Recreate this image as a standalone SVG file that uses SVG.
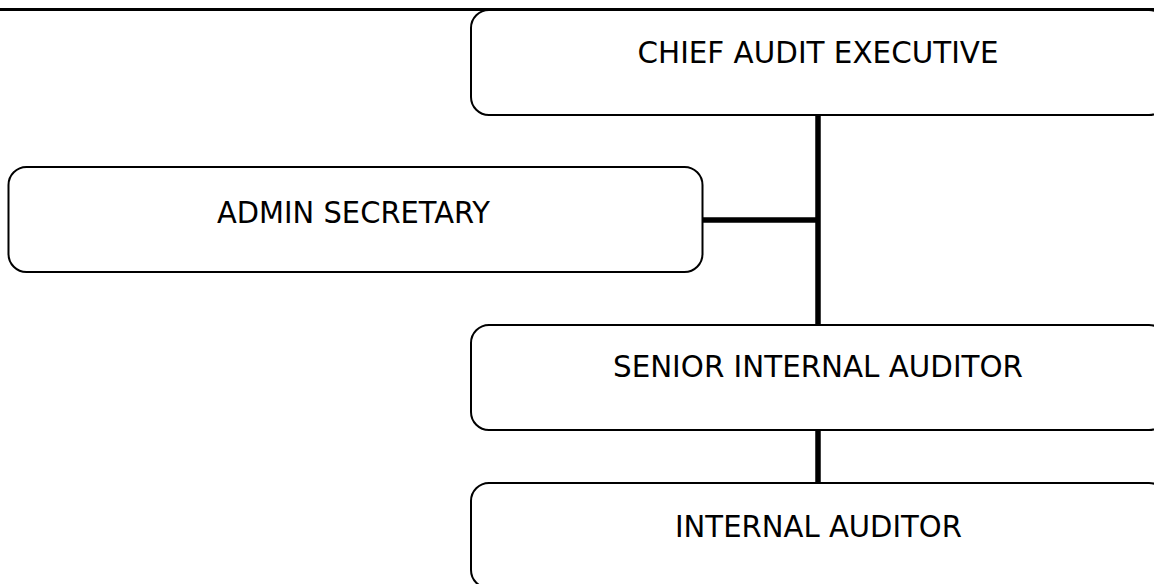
<svg xmlns="http://www.w3.org/2000/svg" width="1154" height="584" viewBox="0 0 1154 584">
<style>
.box{fill:#fff;stroke:#000;stroke-width:2}
.lbl{font-family:"DejaVu Sans","Liberation Sans",sans-serif;font-size:30px;fill:#000;text-anchor:middle}
.conn{stroke:#000;stroke-width:5.5;fill:none}
</style>
<rect width="1154" height="584" fill="#fff"/>
<line x1="0" y1="9.5" x2="1154" y2="9.5" stroke="#000" stroke-width="3"/>
<g id="connectors">
<line class="conn" x1="818" y1="114" x2="818" y2="326"/>
<line class="conn" x1="702" y1="220" x2="818" y2="220"/>
<line class="conn" x1="818" y1="430" x2="818" y2="484"/>
</g>
<g id="chief">
<rect class="box" x="471" y="10" width="696" height="105" rx="18"/>
<text class="lbl" x="818" y="63" textLength="361" lengthAdjust="spacingAndGlyphs">CHIEF AUDIT EXECUTIVE</text>
</g>
<g id="admin">
<rect class="box" x="8.5" y="167" width="694" height="105" rx="18"/>
<text class="lbl" x="353.5" y="223" textLength="273" lengthAdjust="spacingAndGlyphs">ADMIN SECRETARY</text>
</g>
<g id="senior">
<rect class="box" x="471" y="325" width="696" height="105" rx="18"/>
<text class="lbl" x="818" y="377" textLength="410" lengthAdjust="spacingAndGlyphs">SENIOR INTERNAL AUDITOR</text>
</g>
<g id="internal">
<rect class="box" x="471" y="483" width="696" height="105" rx="18"/>
<text class="lbl" x="818.5" y="537" textLength="287" lengthAdjust="spacingAndGlyphs">INTERNAL AUDITOR</text>
</g>
</svg>
